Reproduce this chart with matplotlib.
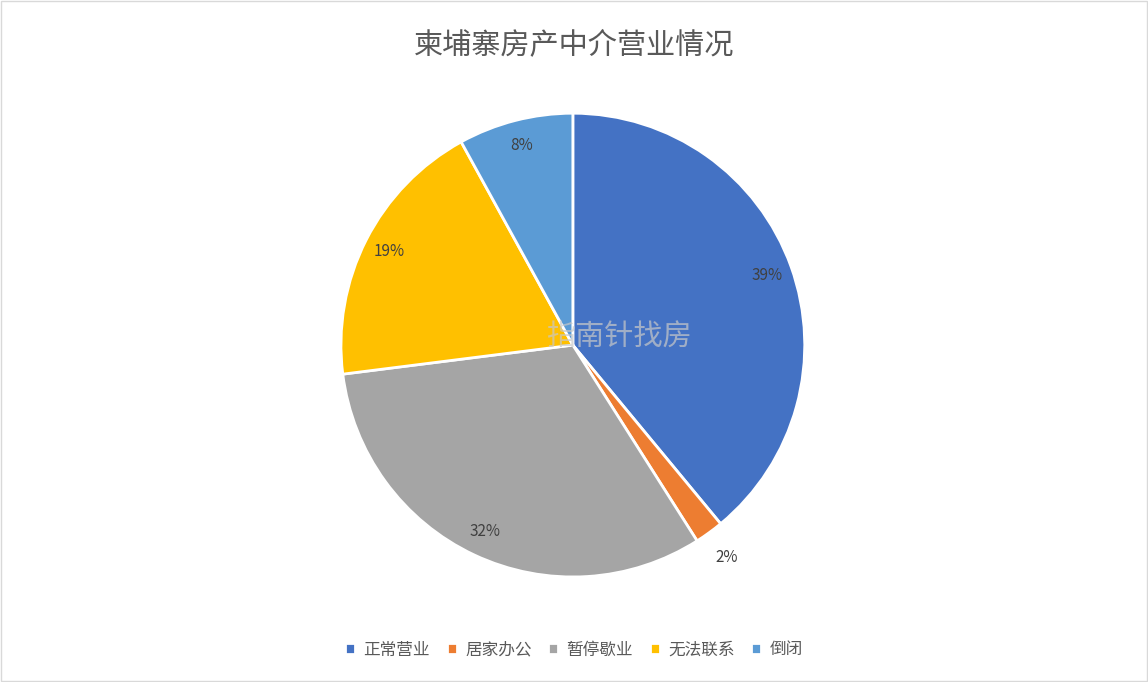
import matplotlib.pyplot as plt
from matplotlib.patches import Rectangle

plt.rcParams["font.family"] = ["Noto Sans CJK SC", "DejaVu Sans"]

labels = ["正常营业", "居家办公", "暂停歇业", "无法联系", "倒闭"]
values = [39, 2, 32, 19, 8]
colors = ["#4472C4", "#ED7D31", "#A5A5A5", "#FFC000", "#5B9BD5"]

fig = plt.figure(figsize=(11.48, 6.82), dpi=100)
fig.patches.append(Rectangle((0.001, 0.001), 0.998, 0.998, transform=fig.transFigure,
                             fill=False, edgecolor="#D9D9D9", linewidth=1))

ax = fig.add_axes([0.297, 0.154, 0.404, 0.680])
wedges, texts, autotexts = ax.pie(
    values, colors=colors, startangle=90, counterclock=False,
    autopct="%1.0f%%", pctdistance=0.89,
    wedgeprops=dict(edgecolor="white", linewidth=2),
    textprops=dict(fontsize=11, color="#404040"),
)
# small slice label sits outside
x, y = autotexts[1].get_position()
autotexts[1].set_position((x / 0.89 * 1.13, y / 0.89 * 1.13))
ax.set_xlim(-1, 1)
ax.set_ylim(-1, 1)
ax.set_aspect("equal")

ax.text(0.2, 0.03, "指南针找房", fontsize=21, color="#C8C8C8", alpha=0.7,
        ha="center", va="center", fontfamily="Noto Sans CJK SC")

fig.suptitle("柬埔寨房产中介营业情况", y=0.955, fontsize=21, color="#595959")

fig.legend(wedges, labels, loc="center", bbox_to_anchor=(0.5, 0.047), ncol=5,
           frameon=False, fontsize=12, handlelength=0.6, handleheight=0.6,
           handletextpad=0.5, columnspacing=1.0, labelcolor="#595959")

fig.savefig("out.png", dpi=100)
